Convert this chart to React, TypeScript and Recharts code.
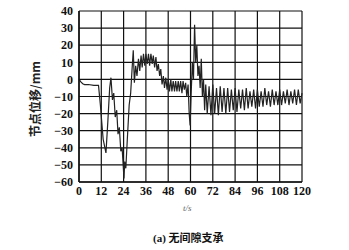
import { LineChart, Line, XAxis, YAxis, CartesianGrid } from "recharts"

// 时间 (s) 与节点位移 (mm)
const times = [
  0, 1, 2, 3, 5, 8, 10.5, 11.5, 13, 14.5, 15.5, 16.5, 17.2, 18, 18.7, 19.5, 20.3, 21, 21.7, 22.5,
  23.2, 24.2, 24.6, 25.2, 26, 27, 27.8, 28.5, 29.2, 29.8, 30.5, 31.2, 32, 32.7, 33.4, 34, 34.7,
  35.4, 36, 36.7, 37.4, 38, 38.7, 39.4, 40, 40.7, 41.4, 42, 42.7, 43.4, 44, 44.7, 45.4, 46,
  46.7, 47.4, 48, 48.7, 49.4, 50, 50.7, 51.4, 52, 52.7, 53.4, 54, 54.7, 55.4, 56, 56.7, 57.4,
  58, 58.7, 59.3, 59.8, 60.3, 61, 61.6, 62.2, 62.8, 63.4, 64, 64.6, 65.2, 65.8, 66.4, 67,
  67.6, 68.2, 69, 70, 71, 72, 73, 74, 75, 76, 77, 78, 79, 80, 81, 82, 83, 84, 85, 86, 87, 88,
  89, 90, 91, 92, 93, 94, 95, 96, 97, 98, 99, 100, 101, 102, 103, 104, 105, 106, 107, 108,
  109, 110, 111, 112, 113, 114, 115, 116, 117, 118, 119, 120,
]
const displacement = [
  0, -1.5, -2.5, -3, -3, -3.5, -3.5, -15, -35, -43, -25, -5, 1, -12, -8, -22, -18, -32, -28, -42,
  -40, -58, -48, -52, -35, -15, -8, 5, 17, -2, 8, 2, 12, 5, 14, 7, 15,
  8, 15, 9, 15, 8, 15, 9, 14, 7, 13, 5, 9, 2, 6, -3, 2, -5,
  1, -6, 0, -7, 0, -7, -1, -7, -1, -7, -1, -7, -1, -8, -1, -6, -2,
  -10, -3, -20, -27, -10, 10, 0, 32, 10, 20, 2, 8, -5, 12, -10, 0,
  -18, -3, -20, -4, -21, -3, -20, -5, -21, -4, -19, -5, -20, -5, -19, -6, -18, -5, -19, -6, -17, -6,
  -18, -5, -17, -7, -16, -6, -17, -6, -16, -7, -16, -5, -15, -7, -16, -6, -15, -7, -15, -6,
  -15, -7, -14, -6, -15, -7, -14, -6, -15, -6, -14, -8,
]
const xTicks = [0, 12, 24, 36, 48, 60, 72, 84, 96, 108, 120]
const yTicks = [-60, -50, -40, -30, -20, -10, 0, 10, 20, 30, 40]

const data = times.map((t, i) => ({ t, v: displacement[i] }))

const tickStyle = {
  fontFamily: "'Liberation Serif', serif",
  fontWeight: 700,
  fontSize: 12,
  fill: "#111",
}

function YLabel() {
  return (
    <text
      transform="translate(34,99) rotate(-90)"
      textAnchor="middle"
      dominantBaseline="central"
      fontFamily="'Noto Sans CJK SC', 'Liberation Serif', serif"
      fontSize={12}
      fontWeight={700}
      fill="#222"
    >
      节点位移/mm
    </text>
  )
}

export default function App() {
  return (
    <div style={{ position: "absolute", left: 0, top: 0, width: 349, height: 250, background: "#fff" }}>
      <LineChart width={349} height={250} data={data} margin={{ top: 11, right: 47, bottom: 48, left: 0 }}>
        <CartesianGrid stroke="#111" strokeWidth={1.2} horizontalValues={yTicks} verticalValues={xTicks} />
        <XAxis
          dataKey="t"
          type="number"
          domain={[0, 120]}
          ticks={xTicks}
          interval={0}
          height={20}
          tickLine={false}
          tickSize={0}
          tickMargin={4}
          axisLine={{ stroke: "#111", strokeWidth: 1.5 }}
          tick={tickStyle}
        />
        <YAxis
          type="number"
          domain={[-60, 40]}
          ticks={yTicks}
          interval={0}
          width={79}
          tickLine={false}
          tickSize={0}
          tickMargin={6}
          axisLine={{ stroke: "#111", strokeWidth: 1.5 }}
          tick={tickStyle}
          tickFormatter={(v: number) => String(v).replace("-", "−")}
          label={<YLabel />}
        />
        <Line
          type="linear"
          dataKey="v"
          stroke="#222"
          strokeWidth={1.2}
          dot={false}
          isAnimationActive={false}
        />
      </LineChart>
      <div
        style={{
          position: "absolute",
          left: 183,
          top: 203,
          fontFamily: "'Liberation Serif', serif",
          fontStyle: "italic",
          fontSize: 9,
          color: "#666",
        }}
      >
        t/s
      </div>
      <div
        style={{
          position: "absolute",
          left: 153,
          top: 229,
          fontFamily: "'Liberation Serif', 'Noto Sans CJK SC', serif",
          fontWeight: 700,
          fontSize: 11,
          color: "#111",
          whiteSpace: "nowrap",
        }}
      >
        (a) 无间隙支承
      </div>
    </div>
  )
}
